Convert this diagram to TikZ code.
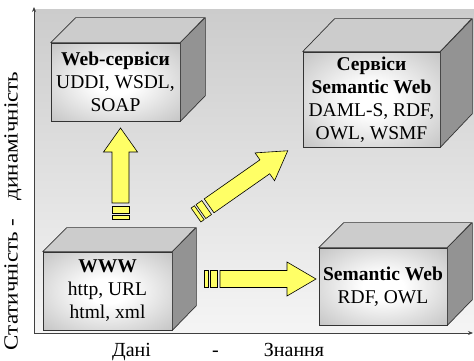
\documentclass[tikz,border=0pt]{standalone}
\usepackage{fontspec}
\setmainfont{Liberation Serif}
\usetikzlibrary{arrows.meta}
\definecolor{arrowyellow}{HTML}{FFFF66}
\pgfdeclareradialshading{boxface}{\pgfpoint{0bp}{0bp}}{color(0bp)=(white); color(8bp)=(white); color(50bp)=(gray!70); color(72bp)=(gray!80)}
% striped block arrow along +x: #1 = end of shaft, #2 = tip
\newcommand{\stripearrow}[2]{%
  \draw[block arrow] (0,-8.5) rectangle (4,8.5);
  \draw[block arrow] (6,-8.5) rectangle (13,8.5);
  \draw[block arrow] (16,-8.5) -- (#1,-8.5) -- (#1,-17) -- (#2,0) -- (#1,17) -- (#1,8.5) -- (16,8.5) -- cycle;
}

\begin{document}
\begin{tikzpicture}[
    x=1pt, y=1pt,
    box front/.style={draw=black!80, line width=0.7pt, shade, shading=boxface,
        inner sep=0pt, align=center, font=\fontsize{19.5}{23}\selectfont},
    box top/.style={draw=black!80, line width=0.7pt, fill=gray!40, line join=round},
    box side/.style={draw=black!80, line width=0.7pt, fill=gray!85, line join=round},
    block arrow/.style={draw=black, line width=0.6pt, fill=arrowyellow},
    axis/.style={draw=black!75, line width=0.8pt, -{Stealth[length=5pt,width=4pt]}},
    axis label/.style={inner sep=0pt, font=\fontsize{20}{24}\selectfont}
  ]
  \useasboundingbox (0,0) rectangle (474,361);

  % plot area
  \shade[top color=gray!40, bottom color=gray!8] (35,28) rectangle (474,351);
  \coordinate (origin) at (34,28);
  \coordinate (ytop) at (34,354);
  \coordinate (xend) at (473,28);
  \draw[axis] (origin) -- (ytop);
  \draw[axis] (origin) -- (xend);

  \node[axis label, rotate=90] (ylabel) at (13,150)
    {\scalebox{1.15}[1]{Статичність -\hspace{0.8em}динамічність}};
  \node[axis label, anchor=base] (xdata) at (131.5,4) {Дані};
  \node[axis label, anchor=base] (xdash) at (215.5,4) {-};
  \node[axis label, anchor=base] (xknow) at (294,4) {Знання};

  % Web-services
  \node[box front, minimum width=129pt, minimum height=78pt] (web) at (115.5,279)
    {\textbf{Web-сервіси}\\UDDI, WSDL,\\SOAP};
  \draw[box top] (web.north west) -- ++(25,25) -- ++(129,0) -- (web.north east) -- cycle;
  \draw[box side] (web.north east) -- ++(25,25) -- ++(0,-78) -- (web.south east) -- cycle;

  % Semantic Web services
  \node[box front, minimum width=137pt, minimum height=95pt] (sws) at (371.5,261.5)
    {\textbf{Сервіси}\\\textbf{Semantic Web}\\DAML-S, RDF,\\OWL, WSMF};
  \draw[box top] (sws.north west) -- ++(32,33) -- ++(137,0) -- (sws.north east) -- cycle;
  \draw[box side] (sws.north east) -- ++(32,33) -- ++(0,-95) -- (sws.south east) -- cycle;

  % WWW
  \node[box front, minimum width=129pt, minimum height=78pt] (www) at (107.5,70)
    {\textbf{WWW}\\http, URL\\html, xml};
  \draw[box top] (www.north west) -- ++(24,24) -- ++(129,0) -- (www.north east) -- cycle;
  \draw[box side] (www.north east) -- ++(24,24) -- ++(0,-78) -- (www.south east) -- cycle;

  % Semantic Web
  \node[box front, minimum width=128pt, minimum height=77pt] (sw) at (383,74.5)
    {\textbf{Semantic Web}\\RDF, OWL};
  \draw[box top] (sw.north west) -- ++(25,25) -- ++(128,0) -- (sw.north east) -- cycle;
  \draw[box side] (sw.north east) -- ++(25,25) -- ++(0,-77) -- (sw.south east) -- cycle;

  % arrows
  \begin{scope}[shift={(120.5,142)}, rotate=90]
    \stripearrow{67}{91}
  \end{scope}
  \begin{scope}[shift={(196,146)}, rotate=35]
    \stripearrow{84}{112}
  \end{scope}
  \begin{scope}[shift={(204,82)}]
    \stripearrow{83}{112}
  \end{scope}

\end{tikzpicture}
\end{document}
